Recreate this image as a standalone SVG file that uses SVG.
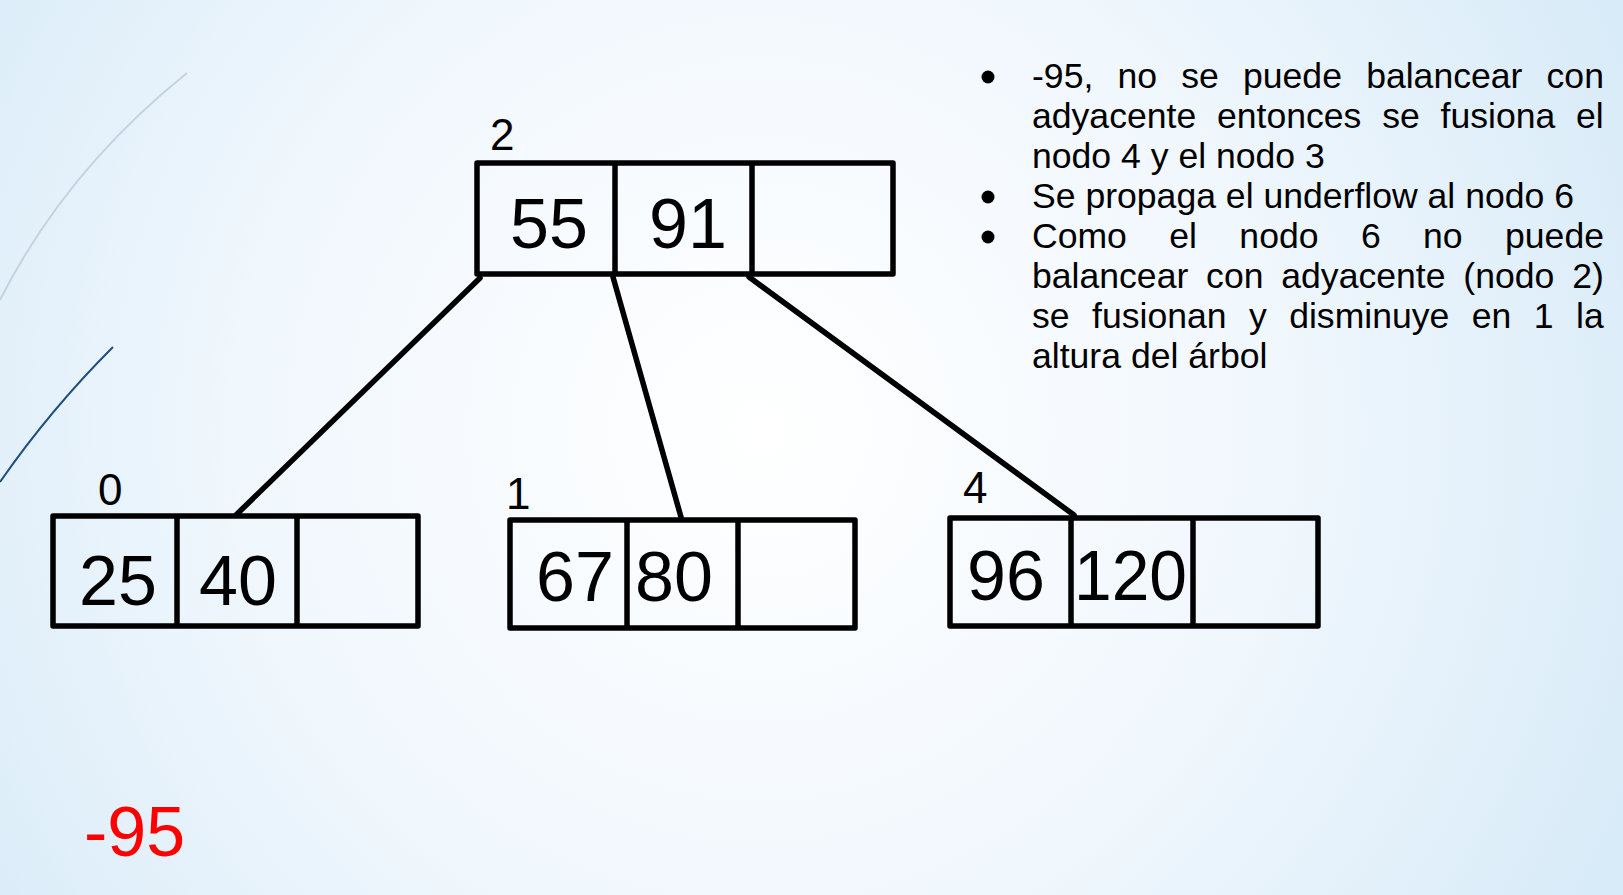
<svg xmlns="http://www.w3.org/2000/svg" width="1623" height="895" viewBox="0 0 1623 895">
<defs>
<radialGradient id="bg" cx="760" cy="430" r="950" gradientUnits="userSpaceOnUse">
<stop offset="0" stop-color="#ffffff"/>
<stop offset="0.55" stop-color="#f0f7fd"/>
<stop offset="1" stop-color="#d8ebf8"/>
</radialGradient>
<style>
.box{fill:none;stroke:#000;stroke-width:5.5;stroke-linejoin:round}
.div{stroke:#000;stroke-width:5.5}
.edge{stroke:#000;stroke-width:5.5;stroke-linecap:round}
.key{font-family:"Liberation Sans",Arial,sans-serif;font-size:70px;fill:#000}
.lbl{font-family:"Liberation Sans",Arial,sans-serif;font-size:44px;fill:#000}
.txt{font-family:"Liberation Sans",Arial,sans-serif;font-size:35.6px;fill:#000}
</style>
</defs>
<rect width="1623" height="895" fill="url(#bg)"/>
<path d="M187,73 Q66,170 0,300" fill="none" stroke="#c5d3e0" stroke-width="2"/>
<path d="M113,347 Q50,410 0,482" fill="none" stroke="#1f4e7e" stroke-width="2"/>

<g id="connectors">
<line class="edge" x1="480" y1="278" x2="236" y2="515"/>
<line class="edge" x1="613" y1="277" x2="681" y2="517"/>
<line class="edge" x1="749" y1="277" x2="1074" y2="515"/>
</g>

<g id="node2">
<rect class="box" x="477" y="163" width="416" height="111" fill="none"/>
<line class="div" x1="615" y1="163" x2="615" y2="274"/>
<line class="div" x1="752" y1="163" x2="752" y2="274"/>
<text class="key" x="510" y="248">55</text>
<text class="key" x="649" y="248">91</text>
<text class="lbl" x="490" y="150">2</text>
</g>

<g id="node0">
<rect class="box" x="53" y="516" width="365" height="110"/>
<line class="div" x1="177" y1="516" x2="177" y2="626"/>
<line class="div" x1="297" y1="516" x2="297" y2="626"/>
<text class="key" x="79" y="605">25</text>
<text class="key" x="199" y="605">40</text>
<text class="lbl" x="98" y="505">0</text>
</g>

<g id="node1">
<rect class="box" x="510" y="520" width="345" height="108"/>
<line class="div" x1="627" y1="520" x2="627" y2="628"/>
<line class="div" x1="738" y1="520" x2="738" y2="628"/>
<text class="key" x="536" y="601">67</text>
<text class="key" x="635" y="601">80</text>
<text class="lbl" x="506" y="509">1</text>
</g>

<g id="node4">
<rect class="box" x="950" y="518" width="368" height="108"/>
<line class="div" x1="1071" y1="518" x2="1071" y2="626"/>
<line class="div" x1="1193" y1="518" x2="1193" y2="626"/>
<text class="key" x="967" y="600">96</text>
<text class="key" x="1074" y="600" textLength="113" lengthAdjust="spacingAndGlyphs">120</text>
<text class="lbl" x="963" y="503">4</text>
</g>

<g id="notes">
<circle cx="988" cy="77" r="6.5" fill="#000"/>
<circle cx="988" cy="197" r="6.5" fill="#000"/>
<circle cx="988" cy="237" r="6.5" fill="#000"/>
<text class="txt" x="1032" y="88" word-spacing="14.3">-95, no se puede balancear con</text>
<text class="txt" x="1032" y="128" word-spacing="10.9">adyacente entonces se fusiona el</text>
<text class="txt" x="1032" y="168">nodo 4 y el nodo 3</text>
<text class="txt" x="1032" y="208">Se propaga el underflow al nodo 6</text>
<text class="txt" x="1032" y="248" word-spacing="32.5">Como el nodo 6 no puede</text>
<text class="txt" x="1032" y="288" word-spacing="7.95">balancear con adyacente (nodo 2)</text>
<text class="txt" x="1032" y="328" word-spacing="12.55">se fusionan y disminuye en 1 la</text>
<text class="txt" x="1032" y="368">altura del árbol</text>
</g>

<text x="84" y="856" font-family="'Liberation Sans',Arial,sans-serif" font-size="70" fill="#ff0000">-95</text>
</svg>
